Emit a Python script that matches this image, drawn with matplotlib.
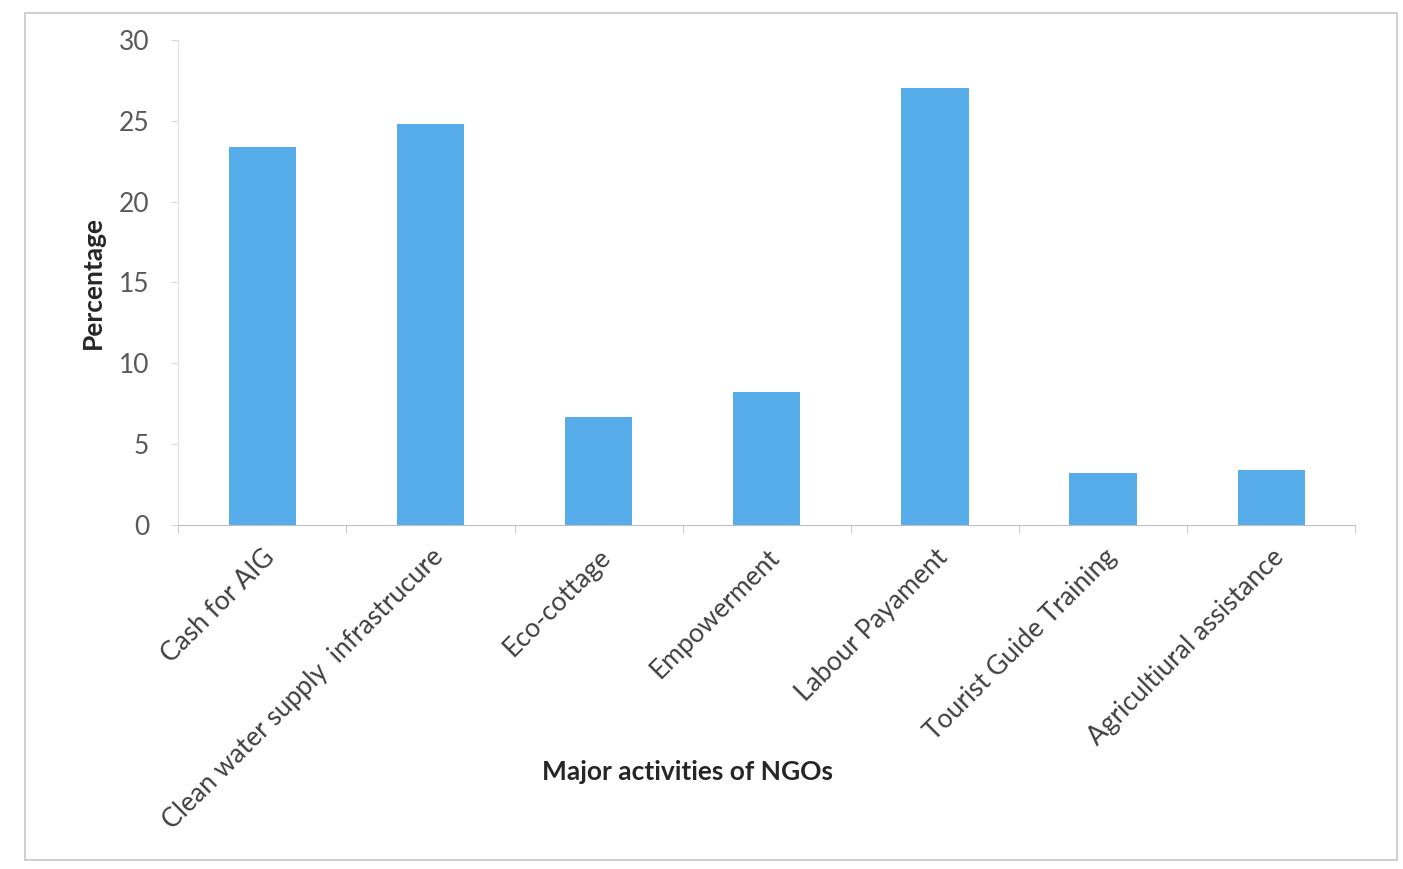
import matplotlib
matplotlib.use("Agg")
import matplotlib.pyplot as plt
import numpy as np
from matplotlib.patches import Rectangle

plt.rcParams["font.family"] = ["Lato", "DejaVu Sans"]

# ── Data ──────────────────────────────────────────────────────────────────────
activities = [
    "Cash for AIG",
    "Clean water supply  infrastrucure",
    "Eco-cottage",
    "Empowerment",
    "Labour Payament",
    "Tourist Guide Training",
    "Agricultiural assistance",
]
percentage = [23.4, 24.8, 6.7, 8.2, 27.0, 3.2, 3.4]
y_ticks = [0, 5, 10, 15, 20, 25, 30]

bar_color = "#57ACEA"
text_gray = "#595959"

# ── Figure ────────────────────────────────────────────────────────────────────
fig = plt.figure(figsize=(14.03, 8.69), dpi=100)
ax = fig.add_axes([0.127, 0.396, 0.839, 0.558])

x = np.arange(len(activities))
ax.bar(x, percentage, width=0.4, color=bar_color, zorder=2)

ax.set_xlim(-0.5, len(activities) - 0.5)
ax.set_ylim(0, 30)
ax.set_yticks(y_ticks)
ax.tick_params(axis="y", labelsize=19, labelcolor=text_gray, length=5,
               color="#D9D9D9", pad=16)

# category labels on major ticks, tick marks at category boundaries
ax.set_xticks(x)
ax.set_xticklabels(activities, rotation=45, ha="right",
                   rotation_mode="anchor", fontsize=19, color="#404040")
ax.tick_params(axis="x", length=0, pad=14)
ax.set_xticks(np.arange(-0.5, len(activities)), minor=True)
ax.tick_params(axis="x", which="minor", length=6, color="#BFBFBF")

for side in ["top", "right"]:
    ax.spines[side].set_visible(False)
ax.spines["left"].set_color("#E3E3E3")
ax.spines["bottom"].set_color("#BFBFBF")

ax.set_ylabel("Percentage", fontsize=19, fontweight="bold", color="#262626",
              labelpad=10)
fig.text(0.49, 0.112, "Major activities of NGOs", ha="center", va="center",
         fontsize=19, fontweight="bold", color="#262626")

# chart area border
fig.patches.append(Rectangle((0.018, 0.01), 0.978, 0.975, transform=fig.transFigure,
                             fill=False, edgecolor="#C8C8C8", linewidth=1.2))

fig.savefig("out.png", dpi=100)
